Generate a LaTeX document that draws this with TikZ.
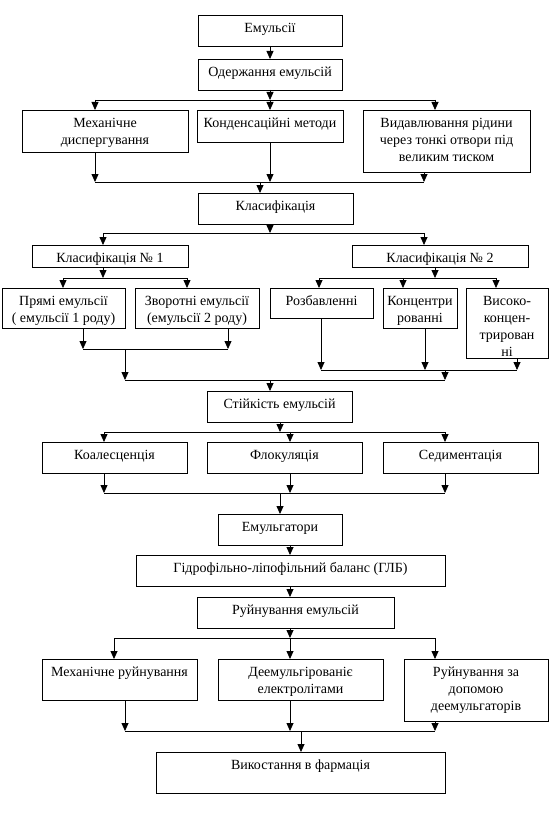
\documentclass[tikz,border=0pt]{standalone}
\usepackage{fontspec}
\setmainfont{Liberation Serif}
\usetikzlibrary{arrows.meta}
\newcommand\bx[6]{%
  \node[box,minimum width={(#4-#2)*1pt},minimum height={(#5-#3)*1pt}] (#1) at ({(#2+#4)/2},{(#3+#5)/2}) {};
  \node[txt] (#1-t) at ([yshift=-5pt]#1.north) {\strut #6};}
\begin{document}
\begin{tikzpicture}[x=1pt,y=-1pt,
  box/.style={draw,line width=0.8pt,inner sep=0pt,outer sep=0pt},
  txt/.style={inner sep=0pt,align=center,anchor=north,font=\fontsize{14}{17}\selectfont},
  arr/.style={line width=0.8pt,-{Triangle[width=7pt,length=8pt]}},
  ln/.style={line width=0.8pt}]
\fill[white] (0,0) rectangle (550,832);
\useasboundingbox (0,0) rectangle (550,832);

\bx{emul}{198}{15}{342}{46}{Емульсії}
\bx{oderzh}{198}{59}{342}{90}{Одержання емульсій}
\bx{mech}{22}{110}{188}{152}{Механічне\\диспергування}
\bx{kond}{197}{110}{343}{142}{Конденсаційні методи}
\bx{vydav}{363}{110}{530}{172}{Видавлювання рідини\\через тонкі отвори під\\великим тиском}
\bx{klas}{198}{193}{353}{224}{Класифікація}
\bx{ka}{32}{245}{188}{267}{Класифікація № 1}
\bx{kb}{352}{245}{528}{267}{Класифікація № 2}
\bx{pryami}{2}{288}{125}{328}{Прямі емульсії\\( емульсії 1 роду)}
\bx{zvor}{135}{288}{259}{328}{Зворотні емульсії\\(емульсії 2 роду)}
\bx{rozb}{270}{288}{373}{318}{Розбавленні}
\bx{konc}{383}{288}{457}{328}{Концентри\\рованні}
\bx{vys}{466}{288}{548}{358}{Високо-\\концен-\\трирован\\ні}
\bx{stiyk}{207}{391}{352}{422}{Стійкість емульсій}
\bx{koal}{42}{442}{187}{473}{Коалесценція}
\bx{flok}{207}{442}{362}{473}{Флокуляція}
\bx{sedym}{383}{442}{538}{473}{Седиментація}
\bx{emulg}{218}{514}{342}{545}{Емульгатори}
\bx{glb}{136}{555}{445}{586}{Гідрофільно-ліпофільний баланс (ГЛБ)}
\bx{ruyn}{197}{597}{394}{628}{Руйнування емульсій}
\bx{mekhr}{42}{659}{197}{700}{Механічне руйнування}
\bx{deem}{218}{659}{383}{700}{Деемульгірованіє\\електролітами}
\bx{ruyndop}{404}{659}{548}{721}{Руйнування за\\допомою\\деемульгаторів}
\bx{vykor}{156}{752}{445}{793}{Викостання в фармація}

% top
\draw[arr] (emul.south) -- (oderzh.north);
\coordinate (a1) at (95,100); \coordinate (a2) at (435,100); \coordinate (a0) at (270,100);
\draw[arr] (oderzh.south) -- (a0);
\draw[ln] (a1) -- (a2);
\draw[arr] (a1) -- (a1 |- mech.north);
\draw[arr] (a0) -- (a0 |- kond.north);
\draw[arr] (a2) -- (a2 |- vydav.north);

\coordinate (b1) at (95,182); \coordinate (b2) at (424,182); \coordinate (b0) at (260,182); \coordinate (b3) at (270,182);
\draw[arr] (b1 |- mech.south) -- (b1);
\draw[arr] (b3 |- kond.south) -- (b3);
\draw[arr] (b2 |- vydav.south) -- (b2);
\draw[ln] (b1) -- (b2);
\draw[arr] (b0) -- (b0 |- klas.north);

% classification
\coordinate (c0) at (270,233); \coordinate (c1) at (103,233); \coordinate (c2) at (424,233);
\draw[arr] (c0 |- klas.south) -- (c0);
\draw[ln] (c1) -- (c2);
\draw[arr] (c1) -- (c1 |- ka.north);
\draw[arr] (c2) -- (c2 |- kb.north);

\coordinate (d0) at (103,278); \coordinate (d1) at (63,278); \coordinate (d2) at (187,278);
\draw[arr] (d0 |- ka.south) -- (d0);
\draw[ln] (d1) -- (d2);
\draw[arr] (d1) -- (d1 |- pryami.north);
\draw[arr] (d2) -- (d2 |- zvor.north);

\coordinate (e0) at (435,278); \coordinate (e1) at (319,278); \coordinate (e2) at (403,278); \coordinate (e3) at (496,278);
\draw[arr] (e0 |- kb.south) -- (e0);
\draw[ln] (e1) -- (e3);
\draw[arr] (e1) -- (e1 |- rozb.north);
\draw[arr] (e2) -- (e2 |- konc.north);
\draw[arr] (e3) -- (e3 |- vys.north);

\coordinate (f0) at (125,349); \coordinate (f1) at (83,349); \coordinate (f2) at (228,349);
\draw[arr] (f1 |- pryami.south) -- (f1);
\draw[arr] (f2 |- zvor.south) -- (f2);
\draw[ln] (f1) -- (f2);

\coordinate (g0) at (445,370); \coordinate (g1) at (321,370); \coordinate (g2) at (425,370); \coordinate (g3) at (517,370);
\draw[arr] (g1 |- rozb.south) -- (g1);
\draw[arr] (g2 |- konc.south) -- (g2);
\draw[arr] (g3 |- vys.south) -- (g3);
\draw[ln] (g1) -- (g3);

\coordinate (h0) at (270,380); \coordinate (h1) at (125,380); \coordinate (h2) at (445,380);
\draw[arr] (f0) -- (h1);
\draw[arr] (g0) -- (h2);
\draw[ln] (h1) -- (h2);
\draw[arr] (h0) -- (h0 |- stiyk.north);

% stability
\coordinate (i0) at (280,432); \coordinate (i1) at (104,432); \coordinate (i2) at (290,432); \coordinate (i3) at (445,432);
\draw[arr] (i0 |- stiyk.south) -- (i0);
\draw[ln] (i1) -- (i3);
\draw[arr] (i1) -- (i1 |- koal.north);
\draw[arr] (i2) -- (i2 |- flok.north);
\draw[arr] (i3) -- (i3 |- sedym.north);

\coordinate (j0) at (280,493); \coordinate (j1) at (104,493); \coordinate (j2) at (290,493); \coordinate (j3) at (445,493);
\draw[arr] (j1 |- koal.south) -- (j1);
\draw[arr] (j2 |- flok.south) -- (j2);
\draw[arr] (j3 |- sedym.south) -- (j3);
\draw[ln] (j1) -- (j3);
\draw[arr] (j0) -- (j0 |- emulg.north);

\draw[arr] (j2 |- emulg.south) -- (j2 |- glb.north);
\draw[arr] (j2 |- glb.south) -- (j2 |- ruyn.north);

% destruction
\coordinate (l0) at (290,638); \coordinate (l1) at (114,638); \coordinate (l3) at (435,638);
\draw[arr] (l0 |- ruyn.south) -- (l0);
\draw[ln] (l1) -- (l3);
\draw[arr] (l1) -- (l1 |- mekhr.north);
\draw[arr] (l0) -- (l0 |- deem.north);
\draw[arr] (l3) -- (l3 |- ruyndop.north);

\coordinate (m0) at (301,731); \coordinate (m1) at (125,731); \coordinate (m2) at (290,731); \coordinate (m3) at (435,731);
\draw[arr] (m1 |- mekhr.south) -- (m1);
\draw[arr] (m2 |- deem.south) -- (m2);
\draw[arr] (m3 |- ruyndop.south) -- (m3);
\draw[ln] (m1) -- (m3);
\draw[arr] (m0) -- (m0 |- vykor.north);
\end{tikzpicture}
\end{document}
